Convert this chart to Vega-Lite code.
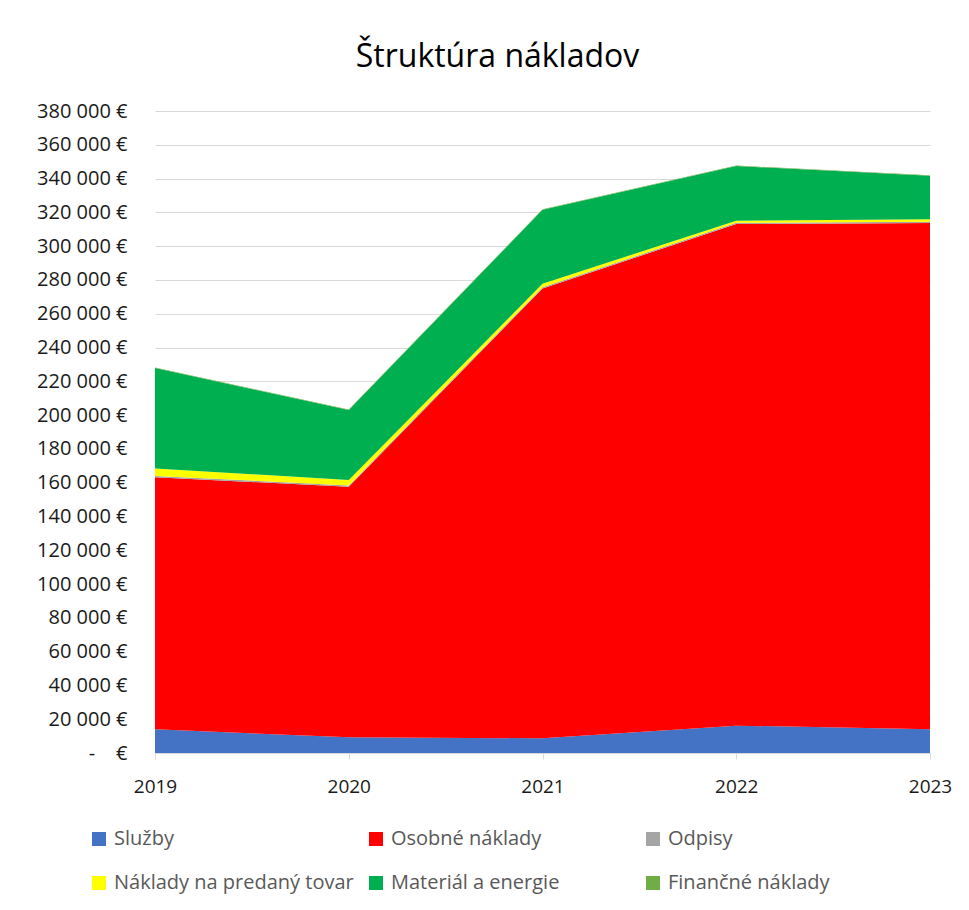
{
  "$schema": "https://vega.github.io/schema/vega-lite/v6.json",
  "autosize": {"type": "none"},
  "width": 775,
  "height": 642,
  "padding": {"left": 155, "top": 111, "right": 39, "bottom": 157},
  "background": "white",
  "config": {
    "font": "Open Sans",
    "view": {"stroke": null},
    "locale": {"number": {"decimal": ",", "thousands": " ", "grouping": [3], "currency": ["", " €"]}}
  },
  "title": {
    "text": "Štruktúra nákladov",
    "fontSize": 32,
    "fontWeight": "normal",
    "color": "#000000",
    "anchor": "middle",
    "dx": -45,
    "offset": 27
  },
  "data": {
    "values": [
      {"year": "2019", "k": 0, "cat": "Služby", "v": 14000},
      {"year": "2020", "k": 0, "cat": "Služby", "v": 9300},
      {"year": "2021", "k": 0, "cat": "Služby", "v": 8700},
      {"year": "2022", "k": 0, "cat": "Služby", "v": 16200},
      {"year": "2023", "k": 0, "cat": "Služby", "v": 14000},
      {"year": "2019", "k": 1, "cat": "Osobné náklady", "v": 149200},
      {"year": "2020", "k": 1, "cat": "Osobné náklady", "v": 148300},
      {"year": "2021", "k": 1, "cat": "Osobné náklady", "v": 266300},
      {"year": "2022", "k": 1, "cat": "Osobné náklady", "v": 296900},
      {"year": "2023", "k": 1, "cat": "Osobné náklady", "v": 299700},
      {"year": "2019", "k": 2, "cat": "Odpisy", "v": 800},
      {"year": "2020", "k": 2, "cat": "Odpisy", "v": 800},
      {"year": "2021", "k": 2, "cat": "Odpisy", "v": 700},
      {"year": "2022", "k": 2, "cat": "Odpisy", "v": 700},
      {"year": "2023", "k": 2, "cat": "Odpisy", "v": 800},
      {"year": "2019", "k": 3, "cat": "Náklady na predaný tovar", "v": 4400},
      {"year": "2020", "k": 3, "cat": "Náklady na predaný tovar", "v": 3200},
      {"year": "2021", "k": 3, "cat": "Náklady na predaný tovar", "v": 2000},
      {"year": "2022", "k": 3, "cat": "Náklady na predaný tovar", "v": 1300},
      {"year": "2023", "k": 3, "cat": "Náklady na predaný tovar", "v": 1400},
      {"year": "2019", "k": 4, "cat": "Materiál a energie", "v": 59500},
      {"year": "2020", "k": 4, "cat": "Materiál a energie", "v": 41400},
      {"year": "2021", "k": 4, "cat": "Materiál a energie", "v": 43800},
      {"year": "2022", "k": 4, "cat": "Materiál a energie", "v": 32300},
      {"year": "2023", "k": 4, "cat": "Materiál a energie", "v": 25800},
      {"year": "2019", "k": 5, "cat": "Finančné náklady", "v": 300},
      {"year": "2020", "k": 5, "cat": "Finančné náklady", "v": 300},
      {"year": "2021", "k": 5, "cat": "Finančné náklady", "v": 300},
      {"year": "2022", "k": 5, "cat": "Finančné náklady", "v": 300},
      {"year": "2023", "k": 5, "cat": "Finančné náklady", "v": 300}
    ]
  },
  "mark": {"type": "area", "opacity": 1},
  "encoding": {
    "x": {
      "field": "year",
      "type": "ordinal",
      "scale": {"type": "point", "padding": 0},
      "axis": {
        "title": null,
        "labelAngle": 0,
        "labelFontSize": 19,
        "labelColor": "#1a1a1a",
        "labelPadding": 18,
        "tickSize": 6,
        "tickColor": "#D9D9D9",
        "domainColor": "#D9D9D9",
        "grid": false
      }
    },
    "y": {
      "field": "v",
      "type": "quantitative",
      "stack": "zero",
      "scale": {"domain": [0, 380000], "nice": false},
      "axis": {
        "title": null,
        "values": [0, 20000, 40000, 60000, 80000, 100000, 120000, 140000, 160000, 180000, 200000, 220000, 240000, 260000, 280000, 300000, 320000, 340000, 360000, 380000],
        "format": "$,.0f",
        "labelExpr": "datum.value === 0 ? '-\u00a0\u00a0\u00a0\u00a0€' : datum.label",
        "labelFontSize": 20,
        "labelColor": "#1a1a1a",
        "labelPadding": 28,
        "ticks": false,
        "tickSize": 0,
        "domain": false,
        "grid": true,
        "gridColor": "#D9D9D9",
        "gridWidth": 1
      }
    },
    "color": {
      "field": "cat",
      "type": "nominal",
      "scale": {
        "domain": ["Služby", "Osobné náklady", "Odpisy", "Náklady na predaný tovar", "Materiál a energie", "Finančné náklady"],
        "range": ["#4472C4", "#FF0000", "#A5A5A5", "#FFFF00", "#00B050", "#70AD47"]
      },
      "legend": {
        "title": null,
        "orient": "none",
        "legendX": -66,
        "legendY": 718,
        "direction": "horizontal",
        "columns": 3,
        "gridAlign": "all",
        "columnPadding": 12,
        "rowPadding": 24,
        "symbolType": "square",
        "symbolSize": 196,
        "symbolStrokeWidth": 0,
        "symbolOpacity": 1,
        "labelFontSize": 20,
        "labelColor": "#595959",
        "labelOffset": 5,
        "labelLimit": 400
      }
    },
    "order": {"field": "k", "type": "quantitative"}
  }
}
